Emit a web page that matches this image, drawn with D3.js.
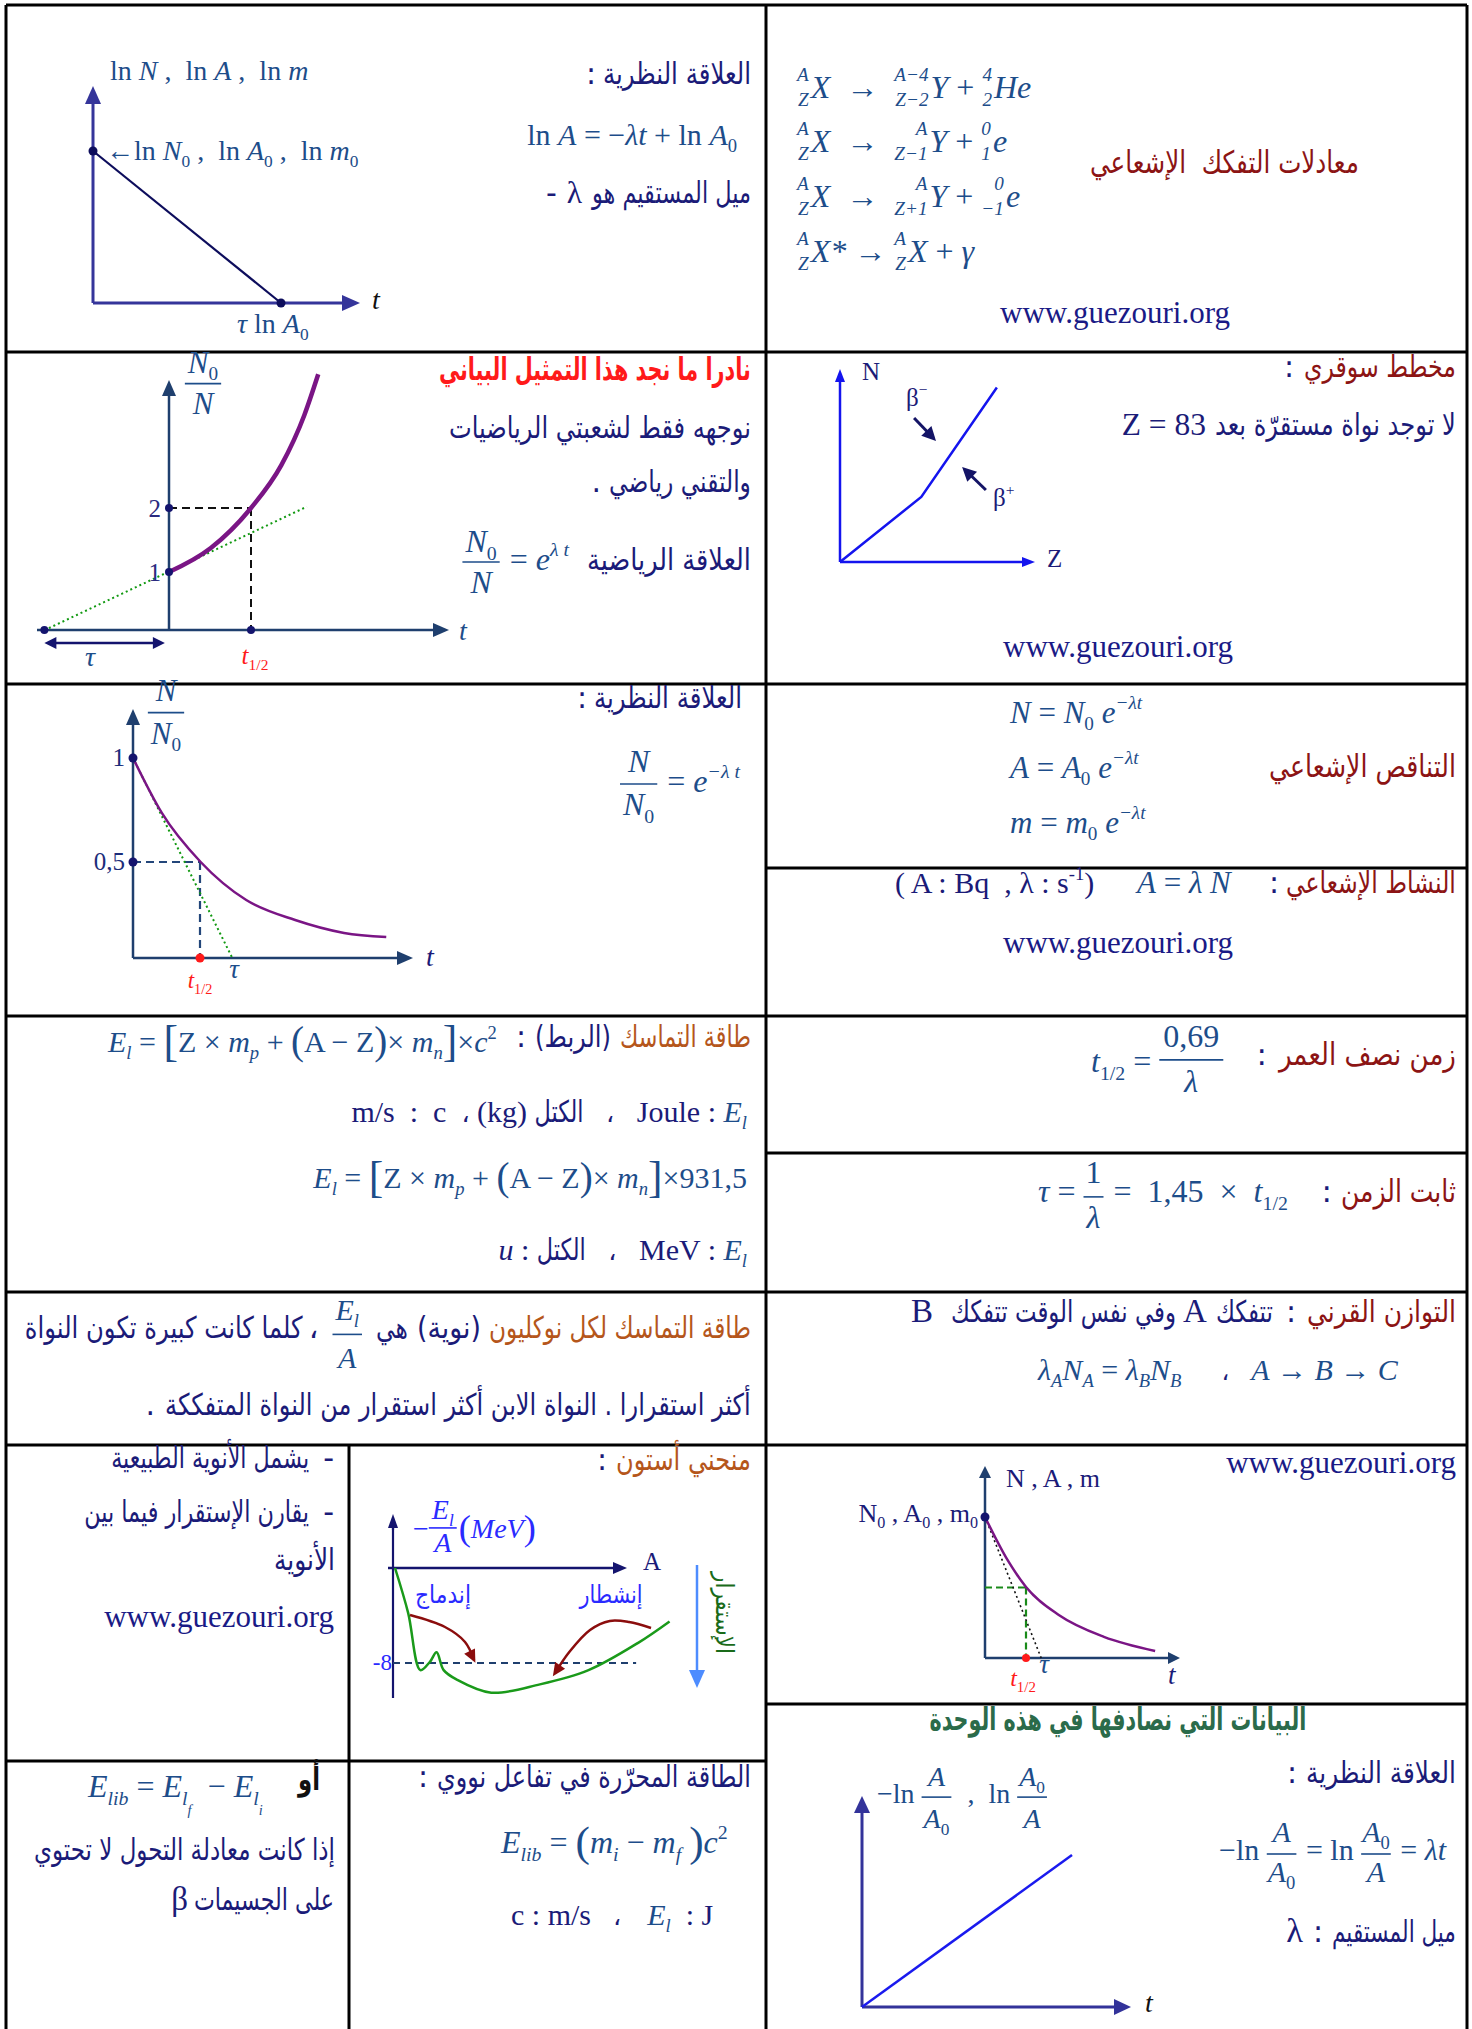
<!DOCTYPE html>
<html>
<head>
<meta charset="utf-8">
<script src="https://cdn.jsdelivr.net/npm/d3@7"></script>
<style>
  body { margin: 0; background: #fff; }
  text { white-space: pre; }
</style>
</head>
<body>
<script>
// ---- data ----
// ln N against t (top-left): straight line from ln N0 down to t = τ ln A0
const lnT = [0, 1];
const lnV = [1, 0];

// N0/N against t (units of t1/2)
const invT = [0, 0.51, 1, 1.37, 1.65, 1.82];
const invV = [1, 1.375, 2, 2.67, 3.45, 4.09];
const invTanT = [-1.52, 1.68];
const invTanV = [0.09, 2.02];
const invTicks = [1, 2];

// Segre chart: stability line N(Z)
const segZ = [0, 43, 83];
const segN = [0, 47, 126];

// N/N0 against t (units of t1/2)
const decT = [0, 0.43, 1.01, 1.69, 2.42, 3.15, 3.78];
const decV = [1, 0.736, 0.5, 0.317, 0.221, 0.159, 0.139];
const decTanT = [0, 1.48];
const decTanV = [1, 0.04];
const decTicks = [1, 0.5];
const decTickLabels = ["1", "0,5"];

// N, A, m against t (units of t1/2)
const actT = [0, 0.56, 1.0, 1.8, 2.9, 4.15];
const actV = [1, 0.69, 0.504, 0.305, 0.15, 0.05];
const actTanT = [0, 1.37];
const actTanV = [1, 0];

// Aston curve: -El/A (MeV) against A
const astonA = [2, 15, 27, 36.5, 43, 50, 63, 97, 145, 193, 242, 273];
const astonE = [0, -3.8, -8.6, -7.9, -7.1, -8.6, -9.4, -10.5, -9.8, -8.6, -6.3, -4.5];
const fusionA = [16.8, 51.3, 71.1, 80];
const fusionE = [-3.96, -4.97, -6.23, -7.75];
const fissionA = [254.7, 233, 214, 194.5, 174, 159.9];
const fissionE = [-5.05, -4.55, -4.46, -5.22, -7.08, -8.85];

// -ln(A/A0) against t
const lrT = [0, 1];
const lrV = [0, 1];

// ---- setup ----
const SERIF = "'Liberation Serif','Times New Roman',serif";
const ARAB = "'DejaVu Sans',sans-serif";
const NAVY = "#1b1b78";
const BLUE = "#1d4d8a";
const DRED = "#8c1414";
const BROWN = "#b5561b";
const RED = "#ff1a1a";
const LINK = "#1a1a86";
const PURPLE = "#7a1585";
const AR = 30; // arabic text size

const svg = d3.select("body").append("svg")
  .attr("width", 1472).attr("height", 2029)
  .style("display", "block");
svg.append("rect").attr("width", 1472).attr("height", 2029).attr("fill", "#fff");

// sequence of text pieces laid out left to right
function seq(parent, size, color, font) {
  font = font || SERIF;
  const g = parent.append("g");
  const api = { g, x: 0 };
  api.t = (str, p = {}) => {
    const x0 = api.x + (p.dx || 0), y0 = (p.dy || 0) * size;
    const el = g.append("text")
      .attr("x", x0)
      .attr("y", y0)
      .attr("font-family", p.f || font)
      .attr("font-size", (p.s || 1) * size)
      .attr("font-style", p.i ? "italic" : null)
      .attr("font-weight", p.b ? "bold" : null)
      .attr("fill", p.c || color)
      .text(str);
    let w = el.node().getComputedTextLength();
    if (p.w) {
      // squeeze to the width the sheet shows
      el.attr("x", 0).attr("y", 0)
        .attr("transform", `translate(${x0},${y0}) scale(${p.w / w},1)`);
      w = p.w;
    }
    api.x += w + (p.dx || 0) + (p.gap || 0);
    return api;
  };
  api.ar = (str, p = {}) => api.t(str, { f: ARAB, ...p });
  api.i = (str, p = {}) => api.t(str, { i: 1, ...p });
  api.sub = (str, p = {}) => api.t(str, { s: 0.62, dy: 0.24, ...p });
  api.sup = (str, p = {}) => api.t(str, { s: 0.62, dy: -0.45, ...p });
  api.sp = w => { api.x += w; return api; };
  api.pre = (up, lo, p = {}) => {
    const mk = (s, dy) => g.append("text")
      .attr("y", dy * size).attr("font-family", font)
      .attr("font-size", (p.s || 0.6) * size).attr("fill", p.c || color)
      .attr("font-style", "italic").attr("text-anchor", "end").text(s);
    const a = mk(up, -0.52), b = mk(lo, 0.26);
    const w = Math.max(a.node().getComputedTextLength(), b.node().getComputedTextLength());
    a.attr("x", api.x + w); b.attr("x", api.x + w);
    api.x += w + 2;
    return api;
  };
  api.frac = (num, den, p = {}) => {
    const c = p.c || color;
    const n = seq(g, size, c, font), d = seq(g, size, c, font);
    num(n); den(d);
    const pad = p.pad == null ? 3 : p.pad;
    const w = Math.max(n.x, d.x) + 2 * pad;
    n.g.attr("transform", `translate(${api.x + (w - n.x) / 2},${(p.ny ?? -0.5) * size})`);
    d.g.attr("transform", `translate(${api.x + (w - d.x) / 2},${(p.dny ?? 0.72) * size})`);
    const ly = (p.ly ?? -0.27) * size;
    g.append("line").attr("x1", api.x).attr("x2", api.x + w).attr("y1", ly).attr("y2", ly)
      .attr("stroke", c).attr("stroke-width", p.lw || 1.6);
    api.x += w + (p.gap || 2);
    return api;
  };
  api.at = (x, y, anchor) => {
    const off = anchor === "end" ? -api.x : anchor === "middle" ? -api.x / 2 : 0;
    g.attr("transform", `translate(${x + off},${y})`);
    return api;
  };
  return api;
}

function arrow(g, x1, y1, x2, y2, o = {}) {
  const c = o.c || "#000", w = o.w || 2, L = o.L || 14, hw = o.hw || 6;
  const dx = x2 - x1, dy = y2 - y1, len = Math.hypot(dx, dy), ux = dx / len, uy = dy / len;
  const bx = x2 - ux * L, by = y2 - uy * L;
  g.append("line").attr("x1", x1).attr("y1", y1).attr("x2", bx + ux).attr("y2", by + uy)
    .attr("stroke", c).attr("stroke-width", w);
  g.append("path").attr("d", `M${x2},${y2}L${bx - uy * hw},${by + ux * hw}L${bx + uy * hw},${by - ux * hw}Z`)
    .attr("fill", c);
}

function dot(g, x, y, c, r) {
  g.append("circle").attr("cx", x).attr("cy", y).attr("r", r || 4.5).attr("fill", c);
}

function dashed(g, x1, y1, x2, y2, c, w, da) {
  g.append("line").attr("x1", x1).attr("y1", y1).attr("x2", x2).attr("y2", y2)
    .attr("stroke", c).attr("stroke-width", w || 2).attr("stroke-dasharray", da || "8,5");
}

function curve(g, xs, ys, sx, sy, c, w, kind, dash) {
  const pts = xs.map((x, i) => [sx(x), sy(ys[i])]);
  g.append("path").attr("d", d3.line().curve(kind || d3.curveCatmullRom)(pts))
    .attr("fill", "none").attr("stroke", c).attr("stroke-width", w)
    .attr("stroke-dasharray", dash || null);
  return pts;
}

function link(x, y, anchor) {
  seq(svg, 31, LINK).t("www.guezouri.org").at(x, y, anchor);
}

// ---- table grid ----
const grid = svg.append("g").attr("stroke", "#000").attr("stroke-width", 3);
[[6, 1467, 5], [6, 1467, 352], [6, 1467, 684], [766, 1467, 868], [6, 1467, 1016],
 [766, 1467, 1153], [6, 1467, 1292], [6, 1467, 1445], [766, 1467, 1704], [6, 766, 1761]]
  .forEach(([a, b, y]) => grid.append("line").attr("x1", a).attr("x2", b).attr("y1", y).attr("y2", y));
[[6, 5, 2029], [1467, 5, 2029], [766, 5, 2029], [349, 1445, 2029]]
  .forEach(([x, a, b]) => grid.append("line").attr("x1", x).attr("x2", x).attr("y1", a).attr("y2", b));

// ===== cell 1: ln N against t =====
{
  const g = svg.append("g");
  const sx = d3.scaleLinear().domain([0, 1]).range([93, 281]);
  const sy = d3.scaleLinear().domain([0, 1]).range([303, 151]);
  arrow(g, 93, 303, 93, 86, { c: "#35359a", w: 3, L: 18, hw: 8 });
  arrow(g, 93, 303, 360, 303, { c: "#35359a", w: 3, L: 18, hw: 8 });
  curve(g, lnT, lnV, sx, sy, "#0d0d5c", 2.2, d3.curveLinear);
  dot(g, sx(lnT[0]), sy(lnV[0]), "#0d0d5c");
  dot(g, sx(lnT[1]), sy(lnV[1]), "#0d0d5c");
  seq(svg, 28, BLUE).t("ln ").i("N").t(" ,  ln ").i("A").t(" ,  ln ").i("m").at(110, 80);
  seq(svg, 28, BLUE).t("←").t("ln ").i("N").sub("0").t(" ,  ln ").i("A").sub("0").t(" ,  ln ").i("m").sub("0").at(106, 160);
  seq(svg, 28, "#111").i("t").at(372, 309);
  seq(svg, 28, BLUE).i("τ").t(" ln ").i("A").sub("0").at(237, 333);

  seq(svg, AR, NAVY, ARAB).t(":").sp(7).ar("العلاقة النظرية", { w: 148 }).at(751, 84, "end");
  seq(svg, 30, BLUE).t("ln ").i("A").t(" = −").i("λt").t(" + ln ").i("A").sub("0").at(737, 145, "end");
  seq(svg, AR, NAVY, ARAB).t("-").sp(10).t("λ", { f: SERIF, s: 1.05 }).sp(10).ar("ميل المستقيم هو", { w: 159 }).at(751, 203, "end");
}

// ===== cell 2: decay equations =====
{
  const eq = () => seq(svg, 32, BLUE);
  eq().pre("A", "Z").i("X").t("  →  ").pre("A−4", "Z−2").i("Y").t(" + ").pre("4", "2").i("He").at(797, 98);
  eq().pre("A", "Z").i("X").t("  →  ").pre("A", "Z−1").i("Y").t(" + ").pre("0", "1").i("e").at(797, 152);
  eq().pre("A", "Z").i("X").t("  →  ").pre("A", "Z+1").i("Y").t(" + ").pre("0", "−1").i("e").at(797, 207);
  eq().pre("A", "Z").i("X*").t(" → ").pre("A", "Z").i("X").t(" + ").i("γ").at(797, 262);
  seq(svg, 31, DRED, ARAB).ar("معادلات التفكك  الإشعاعي", { w: 269 }).at(1359, 173, "end");
  link(1115, 323, "middle");
}

// ===== cell 3: N0/N against t =====
{
  const g = svg.append("g");
  const sx = d3.scaleLinear().domain([0, 1]).range([169, 251]);
  const sy = d3.scaleLinear().domain([1, 2]).range([572, 508]);
  const AX = "#1f3f6e";
  arrow(g, 37, 630, 449, 630, { c: AX, w: 2.5, L: 16, hw: 7 });
  arrow(g, sx(0), 630, sx(0), 380, { c: AX, w: 2.5, L: 16, hw: 7 });
  curve(g, invTanT, invTanV, sx, sy, "#119911", 2, d3.curveLinear, "2,3");
  dashed(g, sx(0), sy(2), sx(1), sy(2), "#111", 2);
  dashed(g, sx(1), sy(2), sx(1), 630, "#111", 2);
  curve(g, invT, invV, sx, sy, PURPLE, 4.5, d3.curveMonotoneX);
  invTicks.forEach(v => {
    dot(g, sx(0), sy(v), "#14146e", 4);
    seq(svg, 25, "#2a2a80").t(String(v)).at(161, sy(v) + 9, "end");
  });
  dot(g, sx(1), 630, "#14146e", 4);
  dot(g, sx(invTanT[0]), 630, "#14146e", 4);
  // τ double arrow
  arrow(g, 100, 643, sx(invTanT[0]), 643, { c: "#14146e", w: 2.5, L: 12, hw: 6 });
  arrow(g, 100, 643, sx(-0.05), 643, { c: "#14146e", w: 2.5, L: 12, hw: 6 });
  seq(svg, 28, BLUE).i("τ").at(90, 666, "middle");
  seq(svg, 25, RED).i("t").sub("1/2").at(sx(1) + 4, 664, "middle");
  seq(svg, 28, BLUE).i("t").at(459, 640);
  seq(svg, 31, BLUE).frac(n => n.i("N").sub("0"), d => d.i("N"), { ny: -0.62, ly: -0.27, dny: 0.7 }).at(204, 392, "middle");

  seq(svg, 31, RED, ARAB).ar("نادرا ما نجد هذا التمثيل البياني", { b: 1, w: 312 }).at(751, 380, "end");
  seq(svg, AR, NAVY, ARAB).ar("نوجهه فقط لشعبتي الرياضيات", { w: 302 }).at(751, 438, "end");
  seq(svg, AR, NAVY, ARAB).t(".").sp(8).ar("والتقني رياضي", { w: 142 }).at(751, 492, "end");
  seq(svg, 32, BLUE).frac(n => n.i("N").sub("0"), d => d.i("N"), { ny: -0.56, ly: -0.25, dny: 0.72 })
    .t(" = ").i("e").sup("λ t", { i: 1 }).sp(18).ar("العلاقة الرياضية", { s: AR / 32, c: NAVY, w: 164 })
    .at(751, 570, "end");
}

// ===== cell 4: Segre chart =====
{
  const g = svg.append("g");
  const sx = d3.scaleLinear().domain([0, 100]).range([840, 1029]);
  const sy = d3.scaleLinear().domain([0, 130]).range([562, 382]);
  const B = "#1414ee";
  arrow(g, sx(0), sy(0), sx(0), 369, { c: B, w: 2.5, L: 13, hw: 5 });
  arrow(g, sx(0), sy(0), 1035, sy(0), { c: B, w: 2.5, L: 13, hw: 5 });
  curve(g, segZ, segN, sx, sy, B, 2.5, d3.curveLinear);
  arrow(g, sx(39.2), sy(104), sx(50.8), sy(87.4), { c: "#141466", w: 3, L: 14, hw: 7 });
  arrow(g, sx(77.2), sy(52), sx(64.6), sy(68.6), { c: "#141466", w: 3, L: 14, hw: 7 });
  seq(svg, 25, NAVY).t("N").at(862, 380);
  seq(svg, 25, NAVY).t("Z").at(1047, 567);
  seq(svg, 25, NAVY).t("β").sup("−").at(906, 406);
  seq(svg, 25, NAVY).t("β").sup("+").at(993, 506);
  seq(svg, AR, DRED, ARAB).t(":", { c: NAVY }).sp(10).ar("مخطط سوقري", { w: 152 }).at(1456, 377, "end");
  seq(svg, AR, NAVY, ARAB).t("Z = 83", { f: SERIF, s: 1.05 }).sp(9).ar("لا توجد نواة مستقرّة بعد", { w: 241 }).at(1456, 435, "end");
  link(1118, 657, "middle");
}

// ===== cell 5: N/N0 against t =====
{
  const g = svg.append("g");
  const sx = d3.scaleLinear().domain([0, 1]).range([133, 200]);
  const sy = d3.scaleLinear().domain([0.5, 1]).range([862, 758]);
  const AX = "#1f3f6e";
  arrow(g, sx(0), 958, 413, 958, { c: AX, w: 2.5, L: 16, hw: 7 });
  arrow(g, sx(0), 958, sx(0), 709, { c: AX, w: 2.5, L: 16, hw: 7 });
  dashed(g, sx(0), sy(0.5), sx(1), sy(0.5), "#23467a", 2.2);
  dashed(g, sx(1), sy(0.5), sx(1), 958, "#23467a", 2.2);
  curve(g, decTanT, decTanV, sx, sy, "#119911", 2, d3.curveLinear, "2,3");
  curve(g, decT, decV, sx, sy, PURPLE, 2.5, d3.curveMonotoneX);
  decTicks.forEach((v, i) => {
    dot(g, sx(0), sy(v), "#14146e", 4.5);
    seq(svg, 25, "#1d2d7a").t(decTickLabels[i]).at(125, sy(v) + 8, "end");
  });
  dot(g, sx(1), 958, RED, 4.5);
  seq(svg, 23, RED).i("t").sub("1/2").at(sx(1), 988, "middle");
  seq(svg, 27, BLUE).i("τ").at(sx(decTanT[1]) + 2, 978, "middle");
  seq(svg, 28, NAVY).i("t").at(426, 966);
  seq(svg, 31, BLUE).frac(n => n.i("N"), d => d.i("N").sub("0"), { ny: -0.63, ly: -0.27, dny: 0.73 }).at(167, 721, "middle");

  seq(svg, AR, NAVY, ARAB).t(":").sp(7).ar("العلاقة النظرية", { w: 148 }).at(742, 708, "end");
  seq(svg, 32, BLUE).frac(n => n.i("N"), d => d.i("N").sub("0"), { ny: -0.62, ly: -0.25, dny: 0.72 })
    .t(" = ").i("e").sup("−λ t", { i: 1 }).at(620, 792);
}

// ===== cell 6: decay laws and activity =====
{
  seq(svg, 31, BLUE).i("N").t(" = ").i("N").sub("0").t(" ").i("e").sup("−λt", { i: 1 }).at(1010, 723);
  seq(svg, 31, BLUE).i("A").t(" = ").i("A").sub("0").t(" ").i("e").sup("−λt", { i: 1 }).at(1010, 778);
  seq(svg, 31, BLUE).i("m").t(" = ").i("m").sub("0").t(" ").i("e").sup("−λt", { i: 1 }).at(1010, 833);
  seq(svg, 31, DRED, ARAB).ar("التناقص الإشعاعي", { w: 187 }).at(1456, 777, "end");
  seq(svg, AR, NAVY, ARAB).t(":").sp(7).ar("النشاط الإشعاعي", { c: DRED, w: 170 }).at(1456, 893, "end");
  seq(svg, 31, BLUE).i("A").t(" = ").i("λ N").at(1137, 893);
  seq(svg, 30, NAVY).t("( A : Bq  , λ : s").sup("-1").t(")").at(895, 893);
  link(1118, 953, "middle");
}

// ===== cell 7: binding energy =====
{
  const bracketed = (s, tail) => {
    s.i("E").sub("l", { i: 1 }).t(" = ").t("[", { s: 1.45, dy: 0.12 }).t("Z × ").i("m").sub("p", { i: 1 })
      .t(" + ").t("(", { s: 1.3, dy: 0.08 }).t("A − Z").t(")", { s: 1.3, dy: 0.08 }).t("× ").i("m").sub("n", { i: 1 })
      .t("]", { s: 1.45, dy: 0.12 }).t("×");
    tail(s);
    return s;
  };
  bracketed(seq(svg, 30, BLUE), s => s.i("c").sup("2")).at(108, 1052);
  seq(svg, AR, NAVY, ARAB).t(":").sp(9).ar("(الربط)", { w: 76 }).sp(9).ar("طاقة التماسك", { c: BROWN, w: 131 }).at(751, 1047, "end");
  seq(svg, 30, NAVY).t("m/s  :  c  ").ar("،", { s: 0.85 }).t(" (kg) ").ar("الكتل", { w: 49 }).t("   ")
    .ar("،", { s: 0.85 }).t("   Joule : ").i("E", { c: BLUE }).sub("l", { i: 1, c: BLUE }).at(747, 1122, "end");
  bracketed(seq(svg, 30, BLUE), s => s.t("931,5")).at(747, 1188, "end");
  seq(svg, 30, NAVY).i("u").t(" : ").ar("الكتل", { w: 49 }).t("   ").ar("،", { s: 0.85 })
    .t("   MeV : ").i("E", { c: BLUE }).sub("l", { i: 1, c: BLUE }).at(747, 1260, "end");
}

// ===== cell 8: half-life and time constant =====
{
  seq(svg, 31, DRED, ARAB).t(":", { c: NAVY }).sp(12).ar("زمن نصف العمر", { w: 177 }).at(1456, 1065, "end");
  seq(svg, 32, BLUE).i("t").sub("1/2").t(" = ")
    .frac(n => n.t("0,69"), d => d.i("λ"), { ny: -0.78, ly: -0.38, dny: 0.62, pad: 4 }).at(1091, 1072);
  seq(svg, 31, DRED, ARAB).t(":", { c: NAVY }).sp(9).ar("ثابت الزمن", { w: 115 }).at(1456, 1202, "end");
  seq(svg, 32, BLUE).i("τ").t(" = ").frac(n => n.t("1"), d => d.i("λ"), { ny: -0.6, ly: -0.16, dny: 0.8, pad: 2 })
    .t(" =  1,45  ×  ").i("t").sub("1/2").at(1038, 1202);
}

// ===== cell 9: binding energy per nucleon =====
{
  seq(svg, AR, NAVY, ARAB).ar("كلما كانت كبيرة تكون النواة", { w: 278 }).sp(6).ar("،").sp(14)
    .frac(n => n.i("E", { f: SERIF, s: 30 / AR }).sub("l", { i: 1, f: SERIF }), d => d.i("A", { f: SERIF, s: 30 / AR }),
      { ny: -0.6, ly: -0.12, dny: 1.0, c: BLUE })
    .sp(12).ar("هي", { w: 32 }).sp(9).ar("(نوية)", { w: 64 }).sp(8).ar("طاقة التماسك لكل نوكليون", { c: BROWN, w: 262 }).at(751, 1338, "end");
  seq(svg, AR, NAVY, ARAB).t(".").sp(10).ar("أكثر استقرارا . النواة الابن أكثر استقرار من النواة المتفككة", { w: 586 }).at(751, 1415, "end");
}

// ===== cell 10: secular equilibrium =====
{
  seq(svg, AR, NAVY, ARAB).t("B", { f: SERIF, s: 1.1 }).sp(18).ar("وفي نفس الوقت تتفكك", { w: 225 }).sp(7)
    .t("A", { f: SERIF, s: 1.1 }).sp(9).ar("تتفكك", { w: 57 }).sp(13).t(":").sp(11).ar("التوازن القرني", { c: DRED, w: 149 })
    .at(1456, 1322, "end");
  seq(svg, 30, BLUE).i("λ").sub("A", { i: 1 }).i("N").sub("A", { i: 1 }).t(" = ").i("λ").sub("B", { i: 1 })
    .i("N").sub("B", { i: 1 }).sp(40).ar("،", { c: NAVY, s: 0.8 }).sp(22)
    .i("A").t(" → ").i("B").t(" → ").i("C").at(1038, 1380);
}

// ===== cell 11: notes on the Aston curve =====
{
  seq(svg, AR, NAVY, ARAB).ar("يشمل الأنوية الطبيعية", { w: 198 }).sp(14).t("-").at(334, 1468, "end");
  seq(svg, AR, NAVY, ARAB).ar("يقارن الإستقرار فيما بين", { w: 225 }).sp(14).t("-").at(334, 1522, "end");
  seq(svg, AR, NAVY, ARAB).ar("الأنوية", { w: 61 }).at(335, 1570, "end");
  link(334, 1627, "end");
}

// ===== cell 12: Aston curve =====
{
  const g = svg.append("g");
  const sx = d3.scaleLinear().domain([0, 230]).range([393, 626]);
  const sy = d3.scaleLinear().domain([0, -8]).range([1568, 1663]);
  const AX = "#14146e";
  g.append("line").attr("x1", sx(0)).attr("x2", sx(0)).attr("y1", 1698).attr("y2", 1528)
    .attr("stroke", AX).attr("stroke-width", 2.2);
  arrow(g, sx(0), 1530, sx(0), 1514, { c: AX, w: 2.2, L: 14, hw: 5 });
  arrow(g, 388, sy(0), 627, sy(0), { c: AX, w: 2.5, L: 14, hw: 6 });
  dashed(g, sx(0), sy(-8), sx(240), sy(-8), "#1f3f6e", 2, "7,5");
  curve(g, astonA, astonE, sx, sy, "#1a9a1a", 2.5, d3.curveCatmullRom);
  const DR = "#8b0d0d";
  [[fusionA, fusionE], [fissionA, fissionE]].forEach(([a, e]) => {
    const pts = curve(g, a, e, sx, sy, DR, 2.5, d3.curveCatmullRom);
    const p1 = pts[pts.length - 2], p2 = pts[pts.length - 1];
    const mx = p2[0] - (p2[0] - p1[0]) * 0.3, my = p2[1] - (p2[1] - p1[1]) * 0.3;
    arrow(g, mx, my, p2[0] + (p2[0] - p1[0]) * 0.15, p2[1] + (p2[1] - p1[1]) * 0.15, { c: DR, w: 2.5, L: 13, hw: 6 });
  });
  arrow(g, 697, 1565, 697, 1688, { c: "#4d8cff", w: 2.5, L: 18, hw: 8 });
  seq(svg, 23, "#2a2aff").t("-8").at(392, 1670, "end");
  seq(svg, 25, NAVY).t("A").at(643, 1570);
  seq(svg, 25, "#2a2aff", ARAB).ar("إندماج", { w: 56 }).at(443, 1603, "middle");
  seq(svg, 25, "#2a2aff", ARAB).ar("إنشطار", { w: 63 }).at(611, 1603, "middle");
  const rot = seq(svg, 25, "#1a6b1a", ARAB).ar("الإستقرار", { w: 82 });
  rot.g.attr("transform", `translate(716,${1613 - rot.x / 2}) rotate(90)`);
  seq(svg, 28, "#2a2aff").t("−").frac(n => n.i("E").sub("l", { i: 1 }), d => d.i("A"), { ny: -0.68, ly: -0.36, dny: 0.5 })
    .t("(", { s: 1.3, dy: 0.06 }).i("MeV").t(")", { s: 1.3, dy: 0.06 }).at(413, 1538);
  seq(svg, AR, BROWN, ARAB).t(":", { c: NAVY }).sp(9).ar("منحني أستون", { w: 135 }).at(751, 1470, "end");
}

// ===== cell 13: released energy, alternative =====
{
  seq(svg, 31, "#111", ARAB).ar("أو", { b: 1, w: 22 }).at(320, 1790, "end");
  seq(svg, 32, BLUE).i("E").sub("lib", { i: 1 }).t(" = ").i("E").sub("l", { i: 1 }).t("f", { i: 1, s: 0.45, dy: 0.55 })
    .t("  − ").i("E").sub("l", { i: 1 }).t("i", { i: 1, s: 0.45, dy: 0.55 }).at(88, 1797);
  seq(svg, AR, NAVY, ARAB).ar("إذا كانت معادلة التحول لا تحتوي", { w: 301 }).at(335, 1860, "end");
  seq(svg, AR, NAVY, ARAB).t("β", { f: SERIF, s: 1.1 }).sp(6).ar("على الجسيمات", { w: 140 }).at(334, 1910, "end");
}

// ===== cell 14: released energy =====
{
  seq(svg, AR, NAVY, ARAB).t(":").sp(9).ar("الطاقة المحرّرة في تفاعل نووي", { w: 314 }).at(751, 1787, "end");
  seq(svg, 32, BLUE).i("E").sub("lib", { i: 1 }).t(" = ").t("(", { s: 1.35, dy: 0.08 }).i("m").sub("i", { i: 1 })
    .t(" − ").i("m").sub("f", { i: 1 }).t(" ").t(")", { s: 1.35, dy: 0.08 }).i("c").sup("2").at(501, 1853);
  seq(svg, 30, NAVY).t("c : m/s").sp(22).ar("،", { s: 0.85 }).sp(26).i("E", { c: BLUE }).sub("l", { i: 1, c: BLUE })
    .t("  : J").at(511, 1925);
}

// ===== cell 15: N, A, m against t =====
{
  const g = svg.append("g");
  const sx = d3.scaleLinear().domain([0, 1]).range([985, 1026]);
  const sy = d3.scaleLinear().domain([0, 1]).range([1658, 1517]);
  const AX = "#1f3f6e";
  arrow(g, sx(0), sy(0), 1180, sy(0), { c: AX, w: 2.5, L: 12, hw: 6 });
  arrow(g, sx(0), sy(0), sx(0), 1466, { c: AX, w: 2.5, L: 12, hw: 6 });
  dashed(g, sx(0), sy(0.5), sx(1), sy(0.5), "#1a8a1a", 2.2, "7,4");
  dashed(g, sx(1), sy(0.5), sx(1), sy(0), "#1a8a1a", 2.2, "7,4");
  curve(g, actTanT, actTanV, sx, sy, "#111", 1.6, d3.curveLinear, "2,3");
  curve(g, actT, actV, sx, sy, PURPLE, 2.5, d3.curveMonotoneX);
  dot(g, sx(0), sy(1), "#14146e", 4.5);
  dot(g, sx(1), sy(0), RED, 4);
  link(1456, 1473, "end");
  seq(svg, 26, NAVY).t("N , A , m").at(1006, 1487);
  seq(svg, 26, NAVY).t("N").sub("0").t(" , A").sub("0").t(" , m").sub("0").at(978, 1522, "end");
  seq(svg, 24, RED).i("t").sub("1/2").at(sx(1) - 3, 1686, "middle");
  seq(svg, 27, BLUE).i("τ").at(sx(actTanT[1]) - 2, 1673);
  seq(svg, 27, NAVY).i("t").at(1168, 1684);
}

// ===== cell 16: data met in this unit =====
{
  const g = svg.append("g");
  const sx = d3.scaleLinear().domain([0, 1]).range([862, 1072]);
  const sy = d3.scaleLinear().domain([0, 1]).range([2007, 1855]);
  const AX = "#33339a";
  arrow(g, sx(0), sy(0), sx(0), 1796, { c: AX, w: 3, L: 17, hw: 8 });
  arrow(g, sx(0), sy(0), 1131, sy(0), { c: AX, w: 3, L: 17, hw: 8 });
  curve(g, lrT, lrV, sx, sy, "#1a1aee", 2.5, d3.curveLinear);
  seq(svg, 31, "#2b6b4a", ARAB).ar("البيانات التي نصادفها في هذه الوحدة", { b: 1, w: 377 }).at(1118, 1730, "middle");
  seq(svg, AR, NAVY, ARAB).t(":").sp(9).ar("العلاقة النظرية", { w: 150 }).at(1456, 1783, "end");
  const fa = { ny: -0.6, ly: -0.2, dny: 0.73, pad: 1 };
  seq(svg, 30, BLUE).t("−ln ").frac(n => n.i("A"), d => d.i("A").sub("0"), fa).t(" = ln ")
    .frac(n => n.i("A").sub("0"), d => d.i("A"), fa).t(" = ").i("λt").at(1219, 1860);
  seq(svg, AR, NAVY, ARAB).t("λ", { f: SERIF, s: 1.15 }).sp(10).t(":").sp(9).ar("ميل المستقيم", { w: 124 }).at(1456, 1942, "end");
  const fb = { ny: -0.6, ly: -0.21, dny: 0.89, pad: 2 };
  seq(svg, 28, BLUE).t("−ln ").frac(n => n.i("A"), d => d.i("A").sub("0"), fb).t("  ,  ln ")
    .frac(n => n.i("A").sub("0"), d => d.i("A"), fb).at(877, 1803);
  seq(svg, 28, "#111").i("t").at(1145, 2012);
}
</script>
</body>
</html>
